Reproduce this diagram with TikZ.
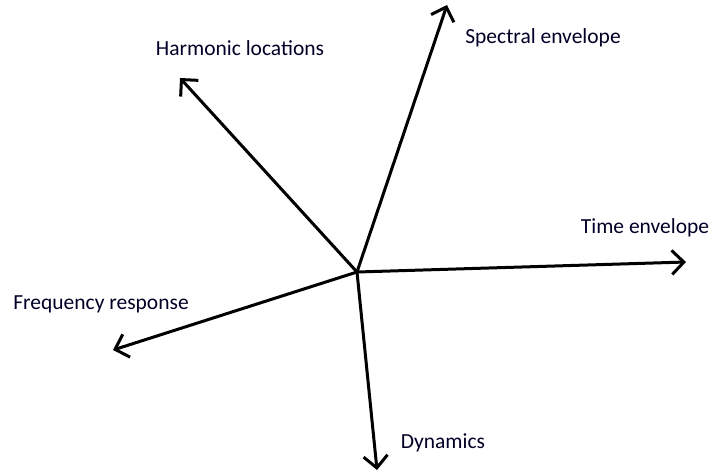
\documentclass[tikz,border=0pt]{standalone}
\usepackage{fontspec}
\setmainfont{Carlito}
\usetikzlibrary{arrows.meta}

\begin{document}
\begin{tikzpicture}[
  x=1pt, y=-1pt,
  font=\fontsize{21.5}{25}\selectfont,
  axis/.style={-{Straight Barb[length=12pt, width=24pt, line width=3pt]}, line width=3pt, draw=black},
  lbl/.style={inner sep=0pt, text=black!85!blue}
]
\useasboundingbox (0,0) rectangle (711,475);
\coordinate (origin) at (357,272);
\coordinate (harm) at (180,78);
\coordinate (spec) at (447,5);
\coordinate (time) at (686,262);
\coordinate (freq) at (113,350);
\coordinate (dyn) at (377,470);
\node[lbl] (harmlbl) at (240,48) {Harmonic locations};
\node[lbl] (speclbl) at (543,38) {Spectral envelope};
\node[lbl] (timelbl) at (645,228) {Time envelope};
\node[lbl] (freqlbl) at (101,304) {Frequency response};
\node[lbl] (dynlbl) at (443,443) {Dynamics};
\draw[axis] (origin) -- (harm);
\draw[axis] (origin) -- (spec);
\draw[axis] (origin) -- (time);
\draw[axis] (origin) -- (freq);
\draw[axis] (origin) -- (dyn);
\end{tikzpicture}
\end{document}
